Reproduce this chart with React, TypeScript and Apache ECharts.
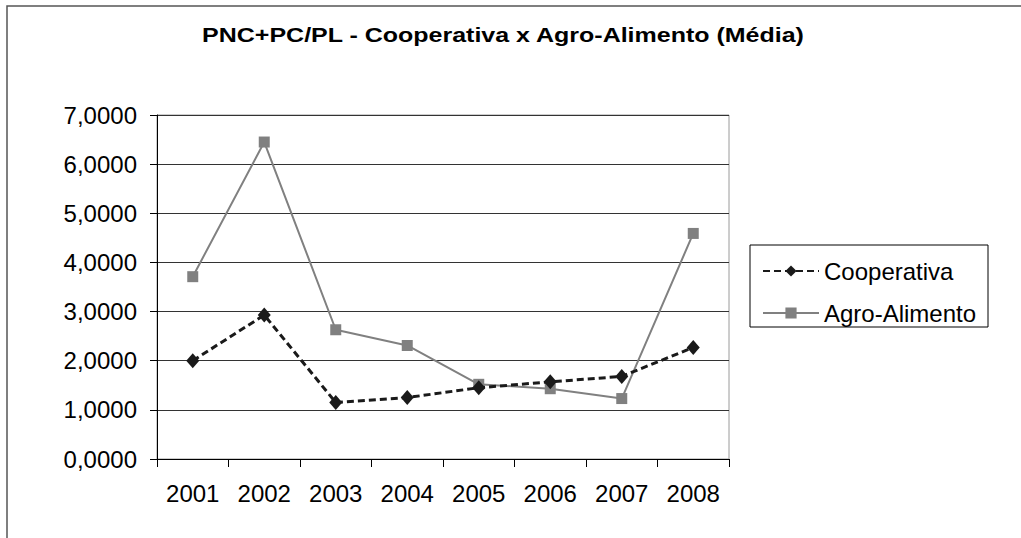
import React, { useEffect, useRef } from "react";
import * as echarts from "echarts";

const TITLE = "PNC+PC/PL - Cooperativa x Agro-Alimento (Média)";
const categories = ["2001", "2002", "2003", "2004", "2005", "2006", "2007", "2008"];
const cooperativa = [2.0, 2.93, 1.15, 1.25, 1.45, 1.57, 1.68, 2.27];
const agroAlimento = [3.71, 6.45, 2.63, 2.31, 1.52, 1.43, 1.23, 4.59];
const seriesNames = ["Cooperativa", "Agro-Alimento"];

const FONT = "'Liberation Sans', Arial, sans-serif";

export default function App() {
  const ref = useRef<HTMLDivElement>(null);
  useEffect(() => {
    if (!ref.current) return;
    const chart = echarts.init(ref.current, null, { renderer: "svg" });
    chart.setOption({
      animation: false,
      backgroundColor: "#ffffff",
      textStyle: { fontFamily: FONT },
      graphic: [
        {
          type: "rect",
          shape: { x: 7, y: 6, width: 1100, height: 600 },
          style: { fill: "none", stroke: "#555", lineWidth: 1.5 },
          silent: true,
        },
        {
          type: "text",
          x: 503,
          y: 35,
          scaleX: 1.19,
          style: {
            text: TITLE,
            font: `bold 21px ${FONT}`,
            fill: "#000",
            align: "center",
            verticalAlign: "middle",
          },
        },
        {
          type: "rect",
          shape: { x: 750, y: 245, width: 238, height: 82 },
          style: { fill: "#fff", stroke: "#000", lineWidth: 1 },
          z: 0,
        },
      ],
      legend: {
        orient: "vertical",
        left: 757,
        top: 254,
        itemWidth: 56,
        itemHeight: 14,
        itemGap: 18,
        z: 10,
        textStyle: { fontSize: 24, color: "#000", fontFamily: FONT, lineHeight: 24 },
        data: seriesNames,
      },
      grid: {
        left: 157,
        right: 292,
        top: 115,
        bottom: 79,
        show: true,
        borderColor: "#9a9a9a",
        borderWidth: 1,
      },
      xAxis: {
        type: "category",
        data: categories,
        boundaryGap: true,
        axisLine: { lineStyle: { color: "#000", width: 1 } },
        axisTick: { show: true, length: 8, lineStyle: { color: "#000" } },
        axisLabel: { fontSize: 24, color: "#000", margin: 22, fontFamily: FONT },
        splitLine: { show: false },
      },
      yAxis: {
        type: "value",
        min: 0,
        max: 7,
        interval: 1,
        axisLine: { show: true, lineStyle: { color: "#000", width: 1 } },
        axisTick: { show: true, length: 7, lineStyle: { color: "#000" } },
        axisLabel: {
          fontSize: 24,
          color: "#000",
          margin: 20,
          fontFamily: FONT,
          formatter: (v: number) => v.toFixed(4).replace(".", ","),
        },
        splitLine: { show: true, lineStyle: { color: "#333", width: 1 } },
      },
      series: [
        {
          name: seriesNames[0],
          type: "line",
          data: cooperativa,
          symbol: "diamond",
          symbolSize: [13, 15],
          itemStyle: { color: "#1a1a1a" },
          lineStyle: { color: "#1a1a1a", width: 3, type: [7, 4] },
          z: 3,
        },
        {
          name: seriesNames[1],
          type: "line",
          data: agroAlimento,
          symbol: "rect",
          symbolSize: 11,
          itemStyle: { color: "#808080" },
          lineStyle: { color: "#808080", width: 2 },
          z: 2,
        },
      ],
    });
    return () => chart.dispose();
  }, []);
  return <div ref={ref} style={{ width: 1021, height: 538, position: "absolute", left: 0, top: 0 }} />;
}
